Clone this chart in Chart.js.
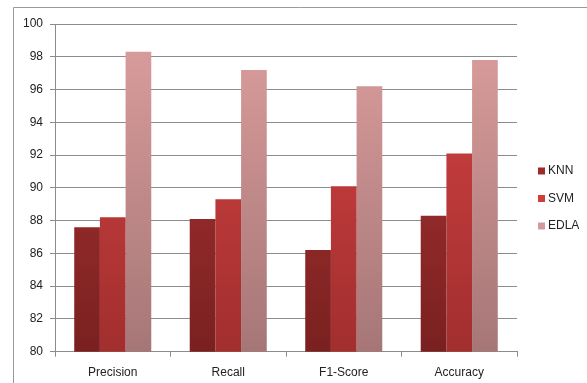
<!DOCTYPE html>
<html>
<head>
<meta charset="utf-8">
<script src="https://cdn.jsdelivr.net/npm/chart.js@4"></script>
<style>
html,body{margin:0;padding:0;background:#fff;}
#wrap{position:relative;width:587px;height:383px;}
</style>
</head>
<body>
<div id="wrap"><canvas id="c" width="587" height="383"></canvas></div>
<script>
const categories = ["Precision", "Recall", "F1-Score", "Accuracy"];
const seriesNames = ["KNN", "SVM", "EDLA"];
const knn = [87.6, 88.1, 86.2, 88.3];
const svm = [88.2, 89.3, 90.1, 92.1];
const edla = [98.3, 97.2, 96.2, 97.8];
const yTicks = [80, 82, 84, 86, 88, 90, 92, 94, 96, 98, 100];

const gradStops = [
  ["#b13636", "#7a2020"],
  ["#d54444", "#a22e2e"],
  ["#dc9e9e", "#a67676"]
];
const legendColors = ["#9e2b2b", "#cf3d3d", "#d49a9a"];

function grad(idx) {
  return function(ctx) {
    const ch = ctx.chart;
    const a = ch.chartArea;
    if (!a) return gradStops[idx][0];
    const g = ch.ctx.createLinearGradient(0, a.top, 0, a.bottom);
    g.addColorStop(0, gradStops[idx][0]);
    g.addColorStop(1, gradStops[idx][1]);
    return g;
  };
}

const FONT = "'Liberation Sans', Arial, sans-serif";

const framePlugin = {
  id: 'frame',
  beforeDraw(chart) {
    const c = chart.ctx;
    c.save();
    c.strokeStyle = '#9a9a9a';
    c.lineWidth = 1;
    c.beginPath();
    c.moveTo(13.5, 400);
    c.lineTo(13.5, 7.5);
    c.lineTo(600, 7.5);
    c.stroke();
    c.restore();
  },
  afterDraw(chart) {
    const c = chart.ctx;
    c.save();
    c.font = "12px " + FONT;
    c.textBaseline = 'middle';
    c.textAlign = 'left';
    chart.data.datasets.forEach((ds, i) => {
      const y = 171 + i * 27.5;
      c.fillStyle = legendColors[i];
      c.fillRect(538, y - 3.5, 7, 7);
      c.fillStyle = '#222';
      c.fillText(ds.label, 548, y);
    });
    c.restore();
  }
};

new Chart(document.getElementById('c'), {
  type: 'bar',
  data: {
    labels: categories,
    datasets: [
      { label: seriesNames[0], data: knn, backgroundColor: grad(0) },
      { label: seriesNames[1], data: svm, backgroundColor: grad(1) },
      { label: seriesNames[2], data: edla, backgroundColor: grad(2) }
    ]
  },
  options: {
    responsive: false,
    animation: false,
    devicePixelRatio: 1,
    layout: { padding: { left: 13, right: 70, top: 24, bottom: 4 } },
    datasets: { bar: { barPercentage: 1.0, categoryPercentage: 0.667 } },
    plugins: { legend: { display: false }, tooltip: { enabled: false } },
    scales: {
      x: {
        afterFit(s) { s.height = 27.3; },
        grid: { offset: true, drawOnChartArea: false, drawTicks: true, tickLength: 5, color: '#8c8c8c' },
        border: { color: '#8c8c8c' },
        ticks: { color: '#222', font: { size: 12, family: FONT }, padding: 9, maxRotation: 0 }
      },
      y: {
        min: 80, max: 100,
        afterFit(s) { s.width = 42; },
        afterBuildTicks(s) { s.ticks = yTicks.map(v => ({ value: v })); },
        grid: { color: '#8c8c8c', tickLength: 5, lineWidth: 1 },
        border: { color: '#8c8c8c' },
        ticks: { color: '#222', font: { size: 12, family: FONT }, padding: 7 }
      }
    }
  },
  plugins: [framePlugin]
});
</script>
</body>
</html>
